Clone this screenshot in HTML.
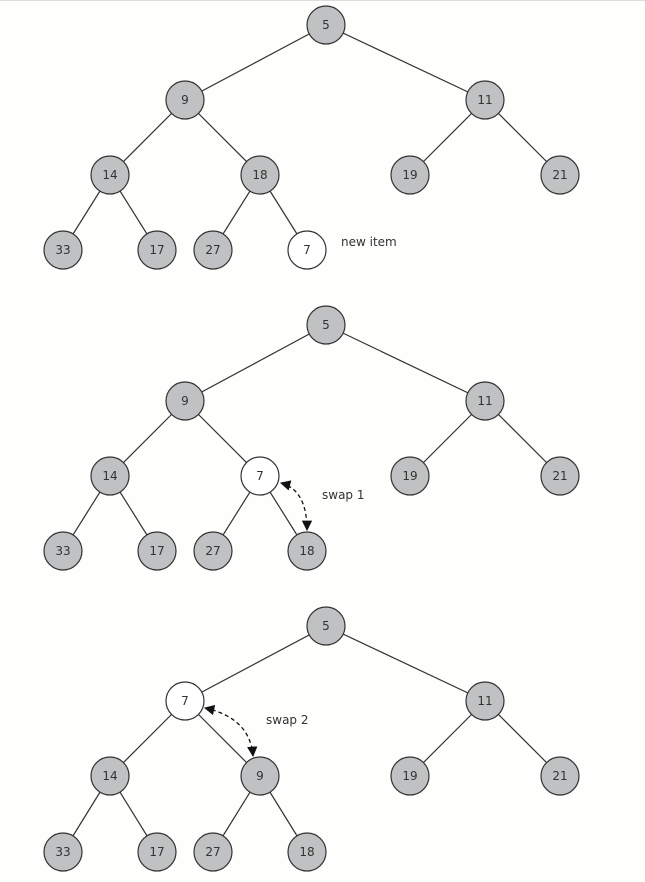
<!DOCTYPE html>
<html><head><meta charset="utf-8"><style>
html,body{margin:0;padding:0;background:#fefefd;}
svg{display:block}
text{font-family:"DejaVu Sans","Liberation Sans",sans-serif;font-size:12px;fill:#333;}
.n text{text-anchor:middle;}
line{stroke:#333;stroke-width:1.2}
circle{stroke:#333;stroke-width:1.2}
.g{fill:#bfc1c2}.w{fill:#fff}
</style></head><body>
<svg width="645" height="882" viewBox="0 0 645 882" xmlns="http://www.w3.org/2000/svg">
<defs><marker id="ah" viewBox="0 0 10 10" refX="9" refY="5" markerWidth="8" markerHeight="8" orient="auto-start-reverse"><path d="M0,0 L10,5 L0,10 z" fill="#111"/></marker></defs>
<line x1="0" y1="0.5" x2="645" y2="0.5" style="stroke:#ddd;stroke-width:1"/>
<!-- Tree 1 -->
<g>
<line x1="326" y1="25" x2="185" y2="100"/><line x1="326" y1="25" x2="485" y2="100"/>
<line x1="185" y1="100" x2="110" y2="175"/><line x1="185" y1="100" x2="260" y2="175"/>
<line x1="485" y1="100" x2="410" y2="175"/><line x1="485" y1="100" x2="560" y2="175"/>
<line x1="110" y1="175" x2="63" y2="250"/><line x1="110" y1="175" x2="157" y2="250"/>
<line x1="260" y1="175" x2="213" y2="250"/><line x1="260" y1="175" x2="307" y2="250"/>
</g>
<g class="n">
<circle class="g" cx="326" cy="25" r="19"/><text x="326" y="29">5</text>
<circle class="g" cx="185" cy="100" r="19"/><text x="185" y="104">9</text>
<circle class="g" cx="485" cy="100" r="19"/><text x="485" y="104">11</text>
<circle class="g" cx="110" cy="175" r="19"/><text x="110" y="179">14</text>
<circle class="g" cx="260" cy="175" r="19"/><text x="260" y="179">18</text>
<circle class="g" cx="410" cy="175" r="19"/><text x="410" y="179">19</text>
<circle class="g" cx="560" cy="175" r="19"/><text x="560" y="179">21</text>
<circle class="g" cx="63" cy="250" r="19"/><text x="63" y="254">33</text>
<circle class="g" cx="157" cy="250" r="19"/><text x="157" y="254">17</text>
<circle class="g" cx="213" cy="250" r="19"/><text x="213" y="254">27</text>
<circle class="w" cx="307" cy="250" r="19"/><text x="307" y="254">7</text>
</g>
<text x="341" y="246">new item</text>
<!-- Tree 2 -->
<g>
<line x1="326" y1="325" x2="185" y2="401"/><line x1="326" y1="325" x2="485" y2="401"/>
<line x1="185" y1="401" x2="110" y2="476"/><line x1="185" y1="401" x2="260" y2="476"/>
<line x1="485" y1="401" x2="410" y2="476"/><line x1="485" y1="401" x2="560" y2="476"/>
<line x1="110" y1="476" x2="63" y2="551"/><line x1="110" y1="476" x2="157" y2="551"/>
<line x1="260" y1="476" x2="213" y2="551"/><line x1="260" y1="476" x2="307" y2="551"/>
</g>
<g class="n">
<circle class="g" cx="326" cy="325" r="19"/><text x="326" y="329">5</text>
<circle class="g" cx="185" cy="401" r="19"/><text x="185" y="405">9</text>
<circle class="g" cx="485" cy="401" r="19"/><text x="485" y="405">11</text>
<circle class="g" cx="110" cy="476" r="19"/><text x="110" y="480">14</text>
<circle class="w" cx="260" cy="476" r="19"/><text x="260" y="480">7</text>
<circle class="g" cx="410" cy="476" r="19"/><text x="410" y="480">19</text>
<circle class="g" cx="560" cy="476" r="19"/><text x="560" y="480">21</text>
<circle class="g" cx="63" cy="551" r="19"/><text x="63" y="555">33</text>
<circle class="g" cx="157" cy="551" r="19"/><text x="157" y="555">17</text>
<circle class="g" cx="213" cy="551" r="19"/><text x="213" y="555">27</text>
<circle class="g" cx="307" cy="551" r="19"/><text x="307" y="555">18</text>
</g>
<path d="M281,483 Q307,490 307,530" fill="none" stroke="#111" stroke-width="1.3" stroke-dasharray="4,3" marker-start="url(#ah)" marker-end="url(#ah)"/>
<text x="322" y="499">swap 1</text>
<!-- Tree 3 -->
<g>
<line x1="326" y1="626" x2="185" y2="701"/><line x1="326" y1="626" x2="485" y2="701"/>
<line x1="185" y1="701" x2="110" y2="776"/><line x1="185" y1="701" x2="260" y2="776"/>
<line x1="485" y1="701" x2="410" y2="776"/><line x1="485" y1="701" x2="560" y2="776"/>
<line x1="110" y1="776" x2="63" y2="852"/><line x1="110" y1="776" x2="157" y2="852"/>
<line x1="260" y1="776" x2="213" y2="852"/><line x1="260" y1="776" x2="307" y2="852"/>
</g>
<g class="n">
<circle class="g" cx="326" cy="626" r="19"/><text x="326" y="630">5</text>
<circle class="w" cx="185" cy="701" r="19"/><text x="185" y="705">7</text>
<circle class="g" cx="485" cy="701" r="19"/><text x="485" y="705">11</text>
<circle class="g" cx="110" cy="776" r="19"/><text x="110" y="780">14</text>
<circle class="g" cx="260" cy="776" r="19"/><text x="260" y="780">9</text>
<circle class="g" cx="410" cy="776" r="19"/><text x="410" y="780">19</text>
<circle class="g" cx="560" cy="776" r="19"/><text x="560" y="780">21</text>
<circle class="g" cx="63" cy="852" r="19"/><text x="63" y="856">33</text>
<circle class="g" cx="157" cy="852" r="19"/><text x="157" y="856">17</text>
<circle class="g" cx="213" cy="852" r="19"/><text x="213" y="856">27</text>
<circle class="g" cx="307" cy="852" r="19"/><text x="307" y="856">18</text>
</g>
<path d="M205,708 Q250,718 253,756" fill="none" stroke="#111" stroke-width="1.3" stroke-dasharray="4,3" marker-start="url(#ah)" marker-end="url(#ah)"/>
<text x="266" y="724">swap 2</text>
</svg>
</body></html>
